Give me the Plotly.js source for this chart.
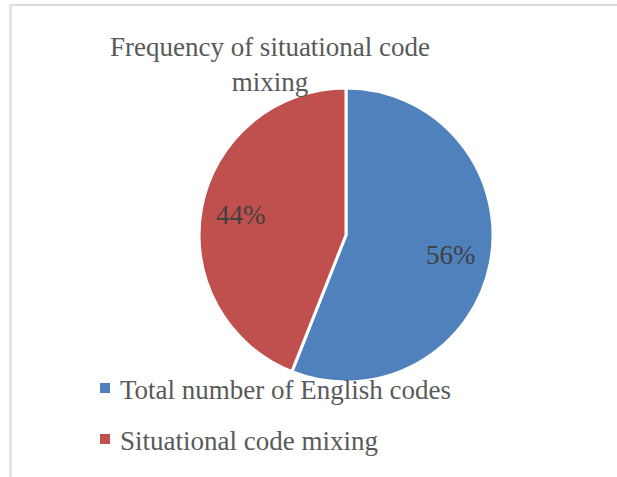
<!DOCTYPE html>
<html>
<head>
<meta charset="utf-8">
<script src="https://cdn.plot.ly/plotly-3.0.1.min.js"></script>
<style>html,body{margin:0;padding:0;background:#fff;}#chart{width:617px;height:477px;}</style>
</head>
<body>
<div id="chart"></div>
<script>
const categories = ["Total number of English codes", "Situational code mixing"];
const values = [56, 44];
const colors = ["#4F81BD", "#C0504D"];
const titleText = "Frequency of situational code<br>mixing";

const W = 617, H = 477;
const cx = 346, cy = 235, r = 147;
const FONT = "Liberation Serif, serif";

const trace = {
  type: "pie",
  labels: categories,
  values: values,
  sort: false,
  direction: "clockwise",
  rotation: 0,
  marker: {colors: colors, line: {color: "#FFFFFF", width: 3}},
  textinfo: "none",
  hoverinfo: "label+percent",
  showlegend: false,
  domain: {x: [(cx - r) / W, (cx + r) / W], y: [(H - cy - r) / H, (H - cy + r) / H]}
};

// percentage labels placed at each slice's mid-angle
const total = values.reduce((a, b) => a + b, 0);
const annotations = [];
let cum = 0;
values.forEach((v, i) => {
  const mid = (cum + v / 2) / total * 2 * Math.PI;
  cum += v;
  const lr = 0.73 * r;
  const px = cx + lr * Math.sin(mid);
  const py = cy - lr * Math.cos(mid);
  annotations.push({
    xref: "paper", yref: "paper", x: px / W, y: 1 - py / H,
    xanchor: "center", yanchor: "middle", showarrow: false,
    text: Math.round(v / total * 100) + "%",
    font: {family: FONT, size: 27, color: "#404040"}
  });
});

// legend entries
const legX = 100, legY0 = 388, legStep = 51, sq = 10;
const shapes = [
  {type: "line", xref: "paper", yref: "paper", x0: 10 / W, x1: 1, y0: 1 - 5 / H, y1: 1 - 5 / H, line: {color: "#D9D9D9", width: 2}},
  {type: "line", xref: "paper", yref: "paper", x0: 10.5 / W, x1: 10.5 / W, y0: 0, y1: 1 - 5 / H, line: {color: "#D9D9D9", width: 2}}
];
categories.forEach((c, i) => {
  const yc = legY0 + i * legStep;
  shapes.push({type: "rect", xref: "paper", yref: "paper",
    x0: legX / W, x1: (legX + sq) / W, y0: 1 - (yc + sq / 2) / H, y1: 1 - (yc - sq / 2) / H,
    fillcolor: colors[i], line: {width: 0}});
  annotations.push({
    xref: "paper", yref: "paper", x: (legX + sq + 8) / W, y: 1 - (yc + 2) / H,
    xanchor: "left", yanchor: "middle", showarrow: false,
    text: c, font: {family: FONT, size: 27, color: "#595959"}
  });
});

const layout = {
  width: W, height: H,
  margin: {l: 0, r: 0, t: 0, b: 0},
  paper_bgcolor: "#FFFFFF",
  font: {family: FONT, color: "#595959"},
  title: {
    text: titleText,
    font: {family: FONT, size: 27, color: "#595959"},
    x: 270 / W, xanchor: "center", xref: "paper",
    y: 1 - 56 / H, yanchor: "top", yref: "container"
  },
  showlegend: false,
  annotations: annotations,
  shapes: shapes
};

Plotly.newPlot("chart", [trace], layout, {displayModeBar: false, staticPlot: true});
</script>
</body>
</html>
